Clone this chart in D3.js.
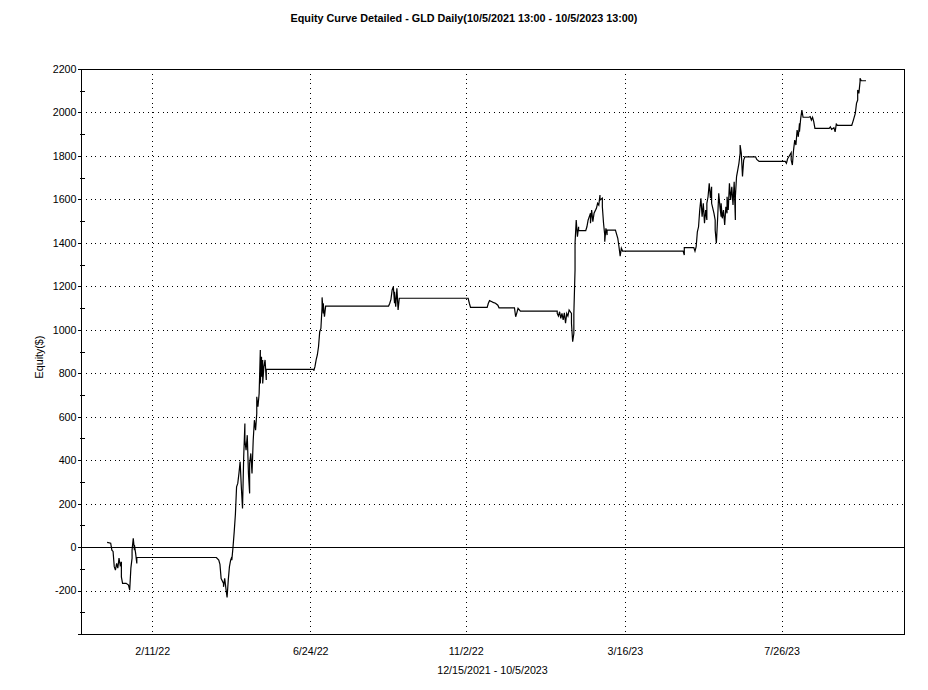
<!DOCTYPE html>
<html><head><meta charset="utf-8">
<script src="https://cdn.jsdelivr.net/npm/d3@7"></script>
<style>
html,body{margin:0;padding:0;background:#fff;}
svg{display:block;font-family:"Liberation Sans",Arial,Helvetica,sans-serif;}
</style></head><body>
<svg id="chart" width="928" height="690"></svg>
<script>
// ---- data ----
const chartTitle = "Equity Curve Detailed - GLD Daily(10/5/2021 13:00 - 10/5/2023 13:00)";
const xAxisTitle = "12/15/2021 - 10/5/2023";
const yAxisTitle = "Equity($)";
const xDomain = ["2021-12-13", "2023-11-06"];
const yDomain = [-400, 2200];
const xTicks = ["2022-02-11", "2022-06-24", "2022-11-02", "2023-03-16", "2023-07-26"];
const yMajorTicks = [-400, -200, 0, 200, 400, 600, 800, 1000, 1200, 1400, 1600, 1800, 2000, 2200];
const yLabelledTicks = [-200, 0, 200, 400, 600, 800, 1000, 1200, 1400, 1600, 1800, 2000, 2200];
const yMinorTicks = [-300, -100, 100, 300, 500, 700, 900, 1100, 1300, 1500, 1700, 1900, 2100];

const dates = [
"2022-01-04","2022-01-07","2022-01-08","2022-01-09","2022-01-10","2022-01-11","2022-01-12","2022-01-13","2022-01-14","2022-01-15",
"2022-01-16","2022-01-16","2022-01-17","2022-01-20","2022-01-22","2022-01-23","2022-01-24","2022-01-25","2022-01-25","2022-01-26",
"2022-01-27","2022-01-27","2022-01-28","2022-01-29","2022-01-29","2022-04-06","2022-04-08","2022-04-09","2022-04-10","2022-04-12",
"2022-04-12","2022-04-13","2022-04-14","2022-04-15","2022-04-16","2022-04-17","2022-04-18","2022-04-19","2022-04-19","2022-04-20",
"2022-04-21","2022-04-22","2022-04-23","2022-04-24","2022-04-25","2022-04-26","2022-04-27","2022-04-28","2022-04-29","2022-04-30",
"2022-04-30","2022-05-01","2022-05-02","2022-05-03","2022-05-04","2022-05-04","2022-05-05","2022-05-06","2022-05-07","2022-05-08",
"2022-05-09","2022-05-10","2022-05-10","2022-05-11","2022-05-12","2022-05-13","2022-05-13","2022-05-14","2022-05-14","2022-05-15",
"2022-05-15","2022-05-16","2022-05-17","2022-05-18","2022-05-18","2022-06-27","2022-06-27","2022-06-28","2022-06-29","2022-06-30",
"2022-07-01","2022-07-02","2022-07-03","2022-07-04","2022-07-04","2022-07-05","2022-07-05","2022-07-06","2022-07-07","2022-08-29",
"2022-08-30","2022-08-31","2022-09-01","2022-09-02","2022-09-03","2022-09-03","2022-09-04","2022-09-05","2022-09-06","2022-09-07",
"2022-11-04","2022-11-05","2022-11-06","2022-11-20","2022-11-21","2022-11-22","2022-11-24","2022-11-25","2022-11-27","2022-11-29",
"2022-11-30","2022-12-13","2022-12-14","2022-12-15","2022-12-16","2022-12-18","2023-01-18","2023-01-18","2023-01-19","2023-01-20",
"2023-01-21","2023-01-22","2023-01-23","2023-01-24","2023-01-25","2023-01-26","2023-01-27","2023-01-28","2023-01-30","2023-01-30",
"2023-01-31","2023-02-01","2023-02-01","2023-02-02","2023-02-02","2023-02-03","2023-02-04","2023-02-05","2023-02-05","2023-02-11",
"2023-02-12","2023-02-13","2023-02-15","2023-02-15","2023-02-16","2023-02-17","2023-02-18","2023-02-20","2023-02-21","2023-02-22",
"2023-02-23","2023-02-23","2023-02-25","2023-02-25","2023-02-26","2023-02-27","2023-02-27","2023-02-28","2023-03-01","2023-03-01",
"2023-03-08","2023-03-10","2023-03-11","2023-03-12","2023-03-13","2023-03-14","2023-05-04","2023-05-05","2023-05-05","2023-05-13",
"2023-05-14","2023-05-15","2023-05-16","2023-05-17","2023-05-18","2023-05-19","2023-05-20","2023-05-21","2023-05-22","2023-05-23",
"2023-05-24","2023-05-24","2023-05-25","2023-05-26","2023-05-27","2023-05-28","2023-05-28","2023-05-30","2023-05-31","2023-05-31",
"2023-06-01","2023-06-02","2023-06-03","2023-06-04","2023-06-05","2023-06-05","2023-06-06","2023-06-07","2023-06-08","2023-06-09",
"2023-06-10","2023-06-10","2023-06-11","2023-06-12","2023-06-13","2023-06-14","2023-06-15","2023-06-16","2023-06-17","2023-06-17",
"2023-06-18","2023-06-19","2023-06-20","2023-06-21","2023-06-21","2023-06-22","2023-06-23","2023-06-24","2023-06-25","2023-07-04",
"2023-07-05","2023-07-07","2023-07-29","2023-07-30","2023-07-31","2023-08-01","2023-08-03","2023-08-03","2023-08-04","2023-08-05",
"2023-08-06","2023-08-07","2023-08-08","2023-08-09","2023-08-10","2023-08-10","2023-08-11","2023-08-12","2023-08-13","2023-08-18",
"2023-08-19","2023-08-20","2023-08-21","2023-08-22","2023-08-23","2023-09-04","2023-09-05","2023-09-06","2023-09-08","2023-09-09",
"2023-09-10","2023-09-11","2023-09-23","2023-09-24","2023-09-26","2023-09-27","2023-09-28","2023-09-28","2023-09-29","2023-09-30",
"2023-09-30","2023-10-01","2023-10-05"
];
const equity = [
22,18,-14,-20,-90,-106,-75,-97,-51,-83,
-68,-137,-167,-167,-175,-198,-97,-51,-14,40,
-14,9,-29,-75,-48,-48,-60,-80,-145,-167,
-183,-144,-190,-232,-152,-90,-60,-45,-60,0,
70,150,277,293,339,393,277,178,416,569,
492,446,515,339,247,385,431,339,492,584,
538,615,692,646,707,907,753,876,784,861,
753,830,861,769,818,818,811,830,861,884,
922,991,1006,1106,1149,1075,1122,1060,1109,1109,
1122,1140,1183,1198,1122,1175,1106,1191,1091,1145,
1145,1122,1103,1103,1122,1134,1129,1126,1122,1113,
1101,1101,1060,1078,1099,1086,1086,1075,1063,1083,
1052,1075,1045,1078,1030,1075,1063,1091,1075,1030,
945,983,1075,1275,1398,1505,1428,1474,1456,1456,
1474,1505,1536,1490,1551,1497,1536,1559,1582,1574,
1620,1597,1605,1566,1490,1436,1405,1467,1436,1459,
1459,1421,1382,1339,1375,1362,1362,1344,1378,1378,
1362,1382,1451,1474,1551,1605,1520,1582,1490,1551,
1505,1582,1612,1674,1605,1658,1582,1536,1505,1459,
1398,1505,1628,1566,1520,1582,1513,1551,1482,1566,
1536,1612,1551,1674,1597,1658,1574,1681,1505,1612,
1705,1735,1766,1812,1850,1812,1705,1781,1796,1796,
1784,1775,1775,1766,1787,1796,1815,1781,1758,1827,
1873,1850,1919,1888,1950,1911,1972,2011,1978,1978,
1981,1965,1978,1958,1927,1927,1934,1922,1930,1911,
1947,1941,1941,1958,1996,2042,2057,2103,2088,2142,
2157,2146,2146
];

// ---- drawing ----
const parse = d3.timeParse("%Y-%m-%d");
const fmt = d3.timeFormat("%-m/%-d/%y");
const data = dates.map((d, i) => ({date: parse(d), v: equity[i]}));

const L = 81, R = 904, T = 69, B = 634;
const x = d3.scaleTime().domain(xDomain.map(parse)).range([L, R]);
const y = d3.scaleLinear().domain(yDomain).range([B, T]);

const svg = d3.select("#chart");
const fontSize = "10.7px";

// title
svg.append("text")
  .attr("x", 464).attr("y", 22)
  .attr("text-anchor", "middle")
  .attr("font-weight", "bold")
  .attr("font-size", "10.8px")
  .attr("fill", "#000")
  .text(chartTitle);

// grid
const grid = svg.append("g").attr("shape-rendering", "crispEdges")
  .attr("stroke", "#000").attr("stroke-width", 1).attr("stroke-dasharray", "1,3.8");
grid.selectAll("line.h").data(yMajorTicks.filter(v => v > yDomain[0] && v < yDomain[1] && v !== 0))
  .join("line").attr("class", "h")
  .attr("x1", L).attr("x2", R)
  .attr("y1", d => Math.round(y(d)) + 0.5).attr("y2", d => Math.round(y(d)) + 0.5);
grid.selectAll("line.v").data(xTicks.map(parse))
  .join("line").attr("class", "v")
  .attr("x1", d => Math.round(x(d)) + 0.5).attr("x2", d => Math.round(x(d)) + 0.5)
  .attr("y1", T).attr("y2", B);

// zero line
svg.append("line")
  .attr("x1", L).attr("x2", R)
  .attr("y1", Math.round(y(0)) + 0.5).attr("y2", Math.round(y(0)) + 0.5)
  .attr("stroke", "#000").attr("stroke-width", 1).attr("shape-rendering", "crispEdges");

// equity line
svg.append("path")
  .datum(data)
  .attr("fill", "none")
  .attr("stroke", "#000")
  .attr("stroke-width", 1.2)
  .attr("stroke-linejoin", "miter")
  .attr("d", d3.line().x(d => x(d.date)).y(d => y(d.v)));

// frame
svg.append("rect")
  .attr("x", L + 0.5).attr("y", T + 0.5)
  .attr("width", R - L).attr("height", B - T)
  .attr("fill", "none").attr("stroke", "#000").attr("stroke-width", 1)
  .attr("shape-rendering", "crispEdges");

// y axis (major)
const yAxis = svg.append("g")
  .attr("transform", `translate(${L + 0.5},0)`)
  .call(d3.axisLeft(y).tickValues(yMajorTicks).tickSize(4).tickPadding(1)
    .tickFormat(d => yLabelledTicks.includes(d) ? String(d) : ""));
yAxis.select(".domain").remove();
yAxis.selectAll("text").attr("font-size", fontSize).attr("font-family", "Liberation Sans, Arial, sans-serif").attr("fill", "#000");

// y axis minor ticks (crossing the axis)
const yMinorL = svg.append("g")
  .attr("transform", `translate(${L + 0.5},0)`)
  .call(d3.axisLeft(y).tickValues(yMinorTicks).tickSize(2).tickFormat(""));
yMinorL.select(".domain").remove();
const yMinorR = svg.append("g")
  .attr("transform", `translate(${L + 0.5},0)`)
  .call(d3.axisRight(y).tickValues(yMinorTicks).tickSize(3).tickFormat(""));
yMinorR.select(".domain").remove();
svg.selectAll("g.tick line").attr("shape-rendering", "crispEdges");

// x axis labels (no tick marks)
const xAxis = svg.append("g")
  .attr("transform", `translate(0,${B})`)
  .call(d3.axisBottom(x).tickValues(xTicks.map(parse)).tickSize(0).tickPadding(13.5).tickFormat(fmt));
xAxis.select(".domain").remove();
xAxis.selectAll("text").attr("font-size", fontSize).attr("font-family", "Liberation Sans, Arial, sans-serif").attr("fill", "#000");

// axis titles
svg.append("text")
  .attr("x", 492.5).attr("y", 674)
  .attr("text-anchor", "middle")
  .attr("font-size", fontSize)
  .attr("fill", "#000")
  .text(xAxisTitle);

svg.append("text")
  .attr("transform", "translate(43,357) rotate(-90)")
  .attr("text-anchor", "middle")
  .attr("font-size", fontSize)
  .attr("fill", "#000")
  .text(yAxisTitle);
</script>
</body></html>
